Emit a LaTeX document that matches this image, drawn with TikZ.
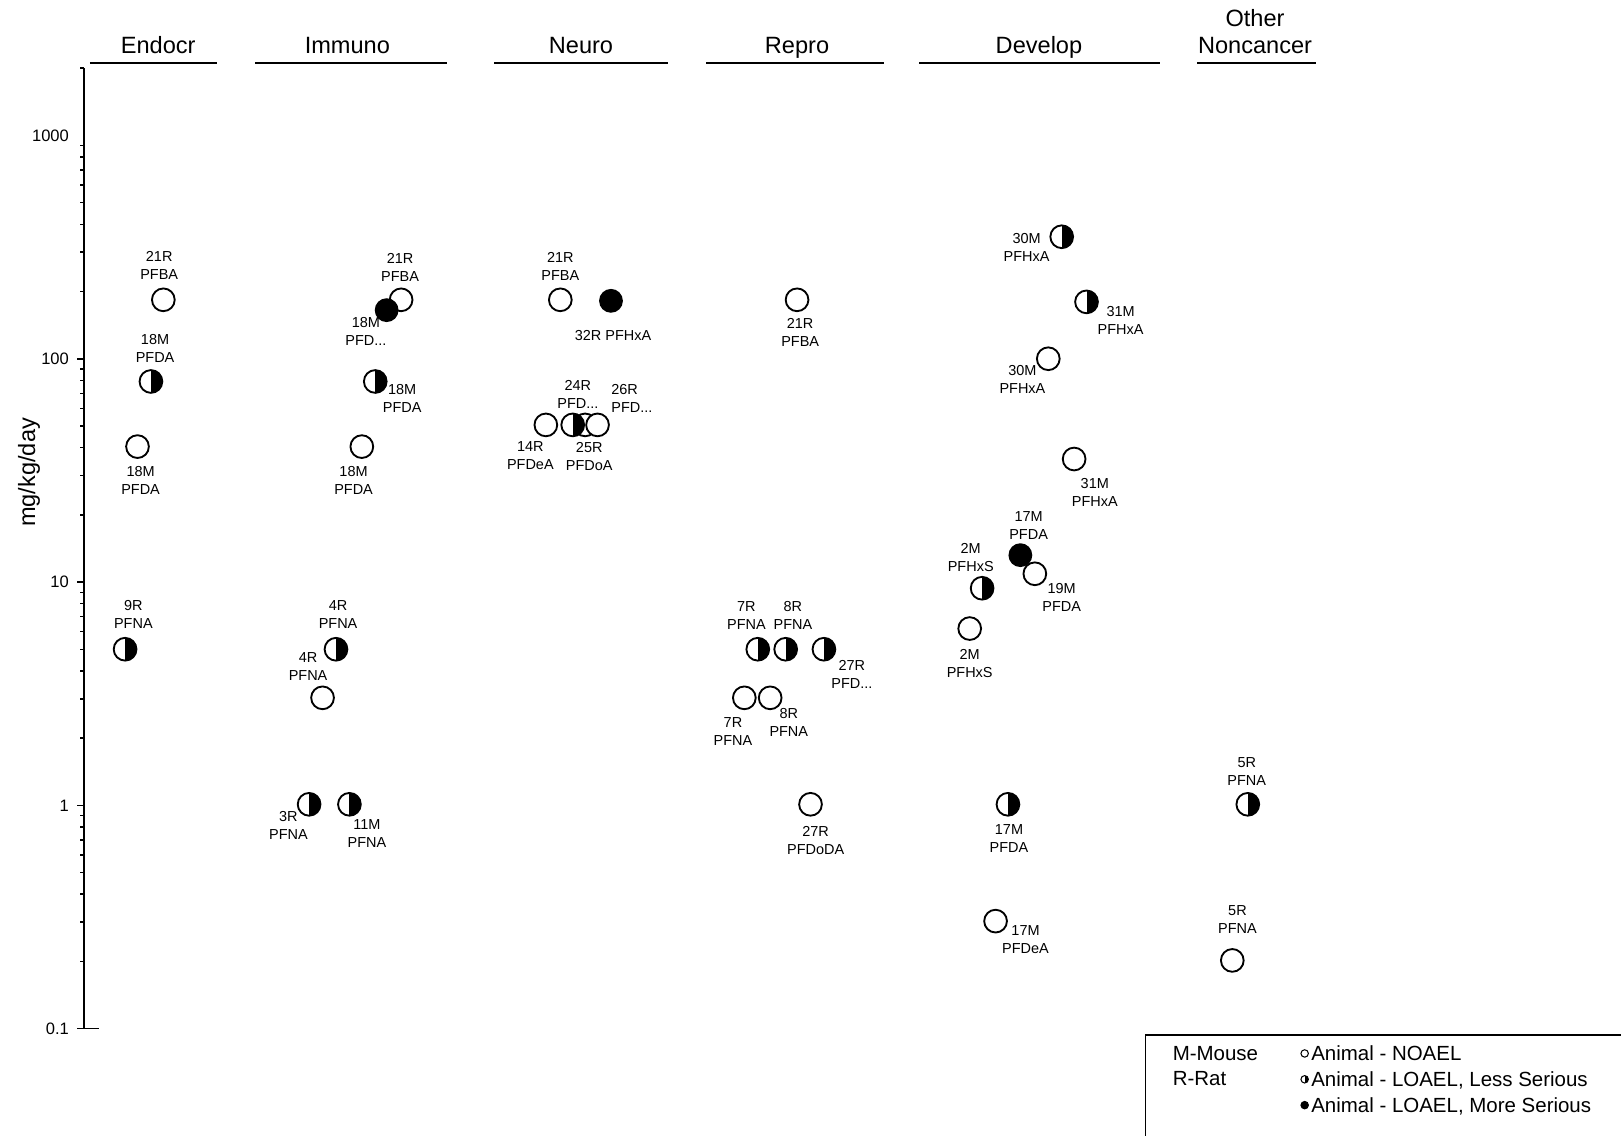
\documentclass[tikz,border=0pt]{standalone}
\usepackage{fontspec}
\setmainfont{Liberation Sans}
\begin{document}
\begin{tikzpicture}[x=0.5pt,y=-0.5pt,
  mk/.style={circle,draw,line width=0.9pt,minimum size=11pt,inner sep=0pt,fill=white},
  noael/.style={mk},
  less/.style={mk,path picture={\fill[black] (path picture bounding box.north) rectangle (path picture bounding box.south east);}},
  more/.style={mk,fill=black,minimum size=10.6pt},
  lbl/.style={font=\fontsize{7}{8.7}\selectfont,align=center,inner sep=0pt},
  lbll/.style={lbl,align=left,anchor=west},
  hdr/.style={font=\fontsize{11.4}{13}\selectfont,inner sep=0pt,anchor=base},
  hline/.style={line width=0.9pt},
  ticklbl/.style={font=\fontsize{8}{9}\selectfont,inner sep=0pt,anchor=east},
  legtxt/.style={font=\fontsize{9.9}{11}\selectfont,inner sep=0pt,anchor=base west},
  lmk/.style={circle,draw,line width=0.5pt,minimum size=3.6pt,inner sep=0pt,fill=white},
  lless/.style={lmk,path picture={\fill[black] (path picture bounding box.north) rectangle (path picture bounding box.south east);}},
  lmore/.style={lmk,fill=black}
]
\useasboundingbox (0,0) rectangle (1568,1098);

% headers
\node[hdr] (h1) at (153,52) {Endocr};
\node[hdr] (h2) at (336,52) {Immuno};
\node[hdr] (h3) at (562,52) {Neuro};
\node[hdr] (h4) at (771,52) {Repro};
\node[hdr] (h5) at (1005,52) {Develop};
\node[hdr] (h6a) at (1214,26) {Other};
\node[hdr] (h6b) at (1214,52) {Noncancer};
\draw[hline] (87,61) -- (210,61);
\draw[hline] (247,61) -- (432,61);
\draw[hline] (478,61) -- (646,61);
\draw[hline] (683,61) -- (855,61);
\draw[hline] (889,61) -- (1122,61);
\draw[hline] (1158,61) -- (1273,61);

% axis
\draw[line width=1pt] (81,66) -- (81,995);
\foreach \d in {0,...,3} {
  \draw[line width=0.8pt] (81,{995-216*\d}) -- ++(-7,0);
  \foreach \m in {2,...,9} {
    \draw[line width=0.7pt] (81,{995-216*(\d+log10(\m))}) -- ++(-4,0);
  }
}
\draw[line width=0.7pt] (81,{995-216*(4+log10(2))}) -- ++(-4,0);
\draw[line width=0.8pt] (75,995) -- (96,995);
\node[ticklbl] (t0) at (67,995) {0.1};
\node[ticklbl] (t1) at (67,779) {1};
\node[ticklbl] (t2) at (67,563) {10};
\node[ticklbl] (t3) at (67,347) {100};
\node[ticklbl] (t4) at (67,131) {1000};
\node[font=\fontsize{11.4}{13}\selectfont,rotate=90,inner sep=0pt] (ylab) at (28,457) {mg/kg/day};

% Endocr
\node[noael] (m1) at (158,290) {};
\node[lbl] (l1) at (154,257) {21R\\PFBA};
\node[less] (m2) at (146,369) {};
\node[lbl] (l2) at (150,337) {18M\\PFDA};
\node[noael] (m3) at (133,432) {};
\node[lbl] (l3) at (136,465) {18M\\PFDA};
\node[less] (m4) at (121,628) {};
\node[lbl] (l4) at (129,594) {9R\\PFNA};

% Immuno
\node[noael] (m5) at (388,290) {};
\node[lbl] (l5) at (387,259) {21R\\PFBA};
\node[more] (m6) at (374,300) {};
\node[lbl] (l6) at (354,321) {18M\\PFD...};
\node[less] (m7) at (363,369) {};
\node[lbl] (l7) at (389,385) {18M\\PFDA};
\node[noael] (m8) at (350,432) {};
\node[lbl] (l8) at (342,465) {18M\\PFDA};
\node[less] (m9) at (325,628) {};
\node[lbl] (l9) at (327,594) {4R\\PFNA};
\node[noael] (m10) at (312,675) {};
\node[lbl] (l10) at (298,645) {4R\\PFNA};
\node[less] (m11) at (299,778) {};
\node[lbl] (l11) at (279,798) {3R\\PFNA};
\node[less] (m12) at (338,778) {};
\node[lbl] (l12) at (355,806) {11M\\PFNA};

% Neuro
\node[noael] (m13) at (542,290) {};
\node[lbl] (l13) at (542,258) {21R\\PFBA};
\node[more] (m14) at (591,291) {};
\node[lbl] (l14) at (593,325) {32R PFHxA};
\node[noael] (m15) at (528,411) {};
\node[lbl] (l15) at (513,441) {14R\\PFDeA};
\node[noael] (m17) at (566,411) {};
\node[lbl] (l17) at (570,442) {25R\\PFDoA};
\node[less] (m16) at (554,411) {};
\node[lbl] (l16) at (559,382) {24R\\PFD...};
\node[noael] (m18) at (578,411) {};
\node[lbll] (l18) at (591,385) {26R\\PFD...};

% Repro
\node[noael] (m19) at (771,290) {};
\node[lbl] (l19) at (774,322) {21R\\PFBA};
\node[less] (m20) at (733,628) {};
\node[lbl] (l20) at (722,595) {7R\\PFNA};
\node[less] (m21) at (760,628) {};
\node[lbl] (l21) at (767,595) {8R\\PFNA};
\node[less] (m22) at (797,628) {};
\node[lbl] (l22) at (824,652) {27R\\PFD...};
\node[noael] (m23) at (720,675) {};
\node[lbl] (l23) at (709,708) {7R\\PFNA};
\node[noael] (m24) at (745,675) {};
\node[lbl] (l24) at (763,699) {8R\\PFNA};
\node[noael] (m25) at (784,778) {};
\node[lbl] (l25) at (789,813) {27R\\PFDoDA};

% Develop
\node[less] (m26) at (1027,229) {};
\node[lbl] (l26) at (993,239) {30M\\PFHxA};
\node[less] (m27) at (1051,292) {};
\node[lbl] (l27) at (1084,310) {31M\\PFHxA};
\node[noael] (m28) at (1014,347) {};
\node[lbl] (l28) at (989,367) {30M\\PFHxA};
\node[noael] (m29) at (1039,444) {};
\node[lbl] (l29) at (1059,476) {31M\\PFHxA};
\node[more] (m30) at (987,537) {};
\node[lbl] (l30) at (995,508) {17M\\PFDA};
\node[noael] (m31) at (1001,555) {};
\node[lbl] (l31) at (1027,578) {19M\\PFDA};
\node[less] (m32) at (950,569) {};
\node[lbl] (l32) at (939,539) {2M\\PFHxS};
\node[noael] (m33) at (938,608) {};
\node[lbl] (l33) at (938,642) {2M\\PFHxS};
\node[less] (m34) at (975,778) {};
\node[lbl] (l34) at (976,811) {17M\\PFDA};
\node[noael] (m35) at (963,891) {};
\node[lbl] (l35) at (992,909) {17M\\PFDeA};

% Other Noncancer
\node[less] (m36) at (1207,778) {};
\node[lbl] (l36) at (1206,746) {5R\\PFNA};
\node[noael] (m37) at (1192,929) {};
\node[lbl] (l37) at (1197,889) {5R\\PFNA};

% legend
\draw[line width=0.8pt] (1108,1120) -- (1108,1001) -- (1590,1001);
\node[legtxt] (lg1) at (1134,1026) {M-Mouse};
\node[legtxt] (lg2) at (1134,1050) {R-Rat};
\node[lmk] (lk1) at (1262,1019) {};
\node[lless] (lk2) at (1262,1044) {};
\node[lmore] (lk3) at (1262,1069) {};
\node[legtxt] (lt1) at (1268,1026) {Animal - NOAEL};
\node[legtxt] (lt2) at (1268,1051) {Animal - LOAEL, Less Serious};
\node[legtxt] (lt3) at (1268,1076) {Animal - LOAEL, More Serious};
\end{tikzpicture}
\end{document}
